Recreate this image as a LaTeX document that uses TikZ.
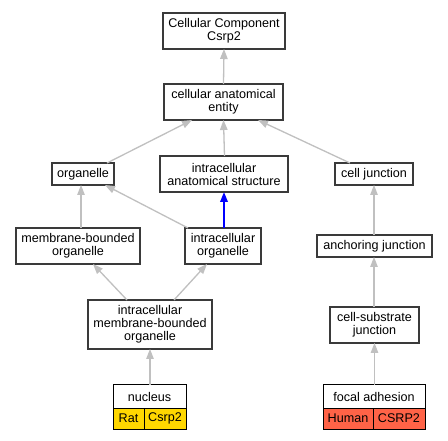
\documentclass[tikz,border=0pt]{standalone}
\usepackage{fontspec}
\setmainfont{Liberation Sans}
\usetikzlibrary{arrows.meta}
\definecolor{edgec}{HTML}{C0C0C0}
\definecolor{boxc}{HTML}{3A3A3A}
\definecolor{gold}{HTML}{FFD700}
\definecolor{tomato}{HTML}{FF6347}
\begin{document}
\begin{tikzpicture}[x=1pt,y=1pt,
  font=\fontsize{12.6pt}{13pt}\selectfont,
  box/.style={inner sep=0pt, outer sep=0pt, align=center},
  border/.style={draw=boxc, line width=1.6pt},
  cell/.style={draw=black, line width=1pt, inner sep=0pt, outer sep=0pt, align=center},
  edgeline/.style={draw=edgec, line width=1.3pt, -{Triangle[length=10pt,width=7.5pt]}},
  bedgeline/.style={draw=blue, line width=1.8pt, -{Triangle[length=10pt,width=7.5pt]}}]
\useasboundingbox (0,0) rectangle (448,440);
\fill[white] (0,0) rectangle (448,440);
\node[box, minimum width=122pt, minimum height=36pt] (top) at (224,440-31) {Cellular Component\\Csrp2};
\node[box, minimum width=119pt, minimum height=36pt] (cae) at (223.5,440-102) {cellular anatomical\\entity};
\node[box, minimum width=62pt, minimum height=22pt] (org) at (83,440-174) {organelle};
\node[box, minimum width=128pt, minimum height=36pt] (ias) at (224,440-174) {intracellular\\anatomical structure};
\node[box, minimum width=78pt, minimum height=22pt] (cj) at (374,440-174) {cell junction};
\node[box, minimum width=124pt, minimum height=36pt] (mbo) at (78,440-246) {membrane-bounded\\organelle};
\node[box, minimum width=76pt, minimum height=36pt] (io) at (223,440-246) {intracellular\\organelle};
\node[box, minimum width=115pt, minimum height=22pt] (aj) at (374.5,440-246) {anchoring junction};
\node[box, minimum width=124pt, minimum height=49pt] (imbo) at (150,440-324.5) {intracellular\\membrane-bounded\\organelle};
\node[box, minimum width=89pt, minimum height=36pt] (csj) at (374.5,440-325) {cell-substrate\\junction};
\foreach \n in {top,cae,org,ias,cj,mbo,io,aj,imbo,csj}
  \draw[border] (\n.south west) rectangle (\n.north east);
% nucleus
\node[cell, fill=white, minimum width=73pt, minimum height=23pt] (nuc) at (149.5,440-396.5) {nucleus};
\node[cell, fill=gold, minimum width=31pt, minimum height=21pt] (rat) at (128.5,440-418.5) {Rat};
\node[cell, fill=gold, minimum width=42pt, minimum height=21pt] (ratg) at (165,440-418.5) {Csrp2};
% focal adhesion
\node[cell, fill=white, minimum width=102pt, minimum height=23pt] (fa) at (374,440-396.5) {focal adhesion};
\node[cell, fill=tomato, minimum width=50pt, minimum height=21pt] (hum) at (348,440-418.5) {Human};
\node[cell, fill=tomato, minimum width=52pt, minimum height=21pt] (humg) at (399,440-418.5) {CSRP2};
% edges
\draw[edgeline] (cae.north) -- (top.south);
\draw[edgeline] ([xshift=24pt]org.north) -- ([xshift=-31.5pt]cae.south);
\draw[edgeline] ([xshift=0.5pt]ias.north) -- (cae.south);
\draw[edgeline] ([xshift=-24pt]cj.north) -- ([xshift=34.5pt]cae.south);
\draw[edgeline] ([xshift=3pt]mbo.north) -- ([xshift=-2pt]org.south);
\draw[edgeline] ([xshift=-35pt]io.north) -- ([xshift=22pt]org.south);
\draw[bedgeline] ([xshift=1pt]io.north) -- (ias.south);
\draw[edgeline] ([xshift=-0.5pt]aj.north) -- (cj.south);
\draw[edgeline] ([xshift=-23pt]imbo.north) -- ([xshift=15pt]mbo.south);
\draw[edgeline] ([xshift=24pt]imbo.north) -- ([xshift=-16pt]io.south);
\draw[edgeline] ([xshift=0.5pt]nuc.north) -- (imbo.south);
\draw[edgeline] ([xshift=-0.5pt]csj.north) -- ([xshift=-0.5pt]aj.south);
\draw[edgeline] ([xshift=0.5pt]fa.north) -- (csj.south);
\end{tikzpicture}
\end{document}
